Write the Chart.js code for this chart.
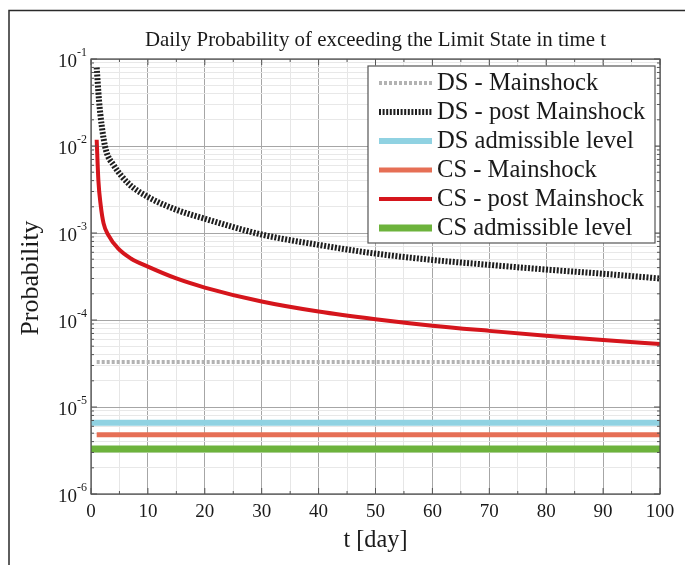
<!DOCTYPE html>
<html><head><meta charset="utf-8">
<script src="https://cdn.jsdelivr.net/npm/chart.js@4.4.0/dist/chart.umd.min.js"></script>
<style>html,body{margin:0;padding:0;background:#fff;}#wrap{position:relative;width:685px;height:565px;}</style>
</head><body><div id="wrap"><canvas id="c" width="685" height="565"></canvas></div>
<script>
// ---- text ----
const titleText = 'Daily Probability of exceeding the Limit State in time t';
const xAxisTitle = 't [day]';
const yAxisTitle = 'Probability';
const xTickValues = [0, 10, 20, 30, 40, 50, 60, 70, 80, 90, 100];
const yDecadeExponents = [-6, -5, -4, -3, -2, -1];
const seriesNames = ['DS - Mainshock', 'DS - post Mainshock', 'DS admissible level',
                     'CS - Mainshock', 'CS - post Mainshock', 'CS admissible level'];

// ---- data ----
const dsPostDays   = [1, 1.4, 1.9, 2.6, 4, 6.6, 10, 15, 20, 30, 40, 50, 60, 70, 80, 90, 100];
const dsPostValues = [0.080, 0.034, 0.0168, 0.0091, 0.0060, 0.0037, 0.0026, 0.00185, 0.00146,
                      0.00096, 0.00073, 0.00058, 0.00049, 0.00043, 0.00038, 0.00034, 0.00030];
const csPostDays   = [1, 1.3, 1.7, 2.2, 3, 4.8, 7, 10, 15, 20, 30, 40, 50, 60, 70, 80, 90, 100];
const csPostValues = [0.0118, 0.0040, 0.0021, 0.0013, 0.00096, 0.00066, 0.00051, 0.00041, 0.00030,
                      0.000236, 0.000163, 0.000125, 0.000102, 0.000086, 0.000075, 0.0000660, 0.0000590, 0.0000530];
const mainshockDays  = [1, 100];
const admissibleDays = [0, 100];
const dsMainshockLevel  = 3.3e-5;
const dsAdmissibleLevel = 6.6e-6;
const csMainshockLevel  = 4.8e-6;
const csAdmissibleLevel = 3.3e-6;

// ---- build ----
const pts = (xs, ys) => xs.map((x, i) => ({x: x, y: Array.isArray(ys) ? ys[i] : ys}));
const styles = [
  {color: '#b3b3b3', width: 4, dash: [3, 2]},
  {color: '#1e1e1e', width: 6, dash: [2, 1.6]},
  {color: '#90d2e2', width: 6, dash: []},
  {color: '#e66f55', width: 5, dash: []},
  {color: '#d5151c', width: 4, dash: []},
  {color: '#6db33c', width: 7, dash: []}
];
const seriesData = [
  pts(mainshockDays, dsMainshockLevel),
  pts(dsPostDays, dsPostValues),
  pts(admissibleDays, dsAdmissibleLevel),
  pts(mainshockDays, csMainshockLevel),
  pts(csPostDays, csPostValues),
  pts(admissibleDays, csAdmissibleLevel)
];
const datasets = seriesNames.map((n, i) => ({
  label: n, data: seriesData[i], borderColor: styles[i].color, borderWidth: styles[i].width,
  borderDash: styles[i].dash, borderCapStyle: 'butt', pointRadius: 0, tension: 0.35,
  cubicInterpolationMode: 'monotone', fill: false
}));

const SERIF = '"Liberation Serif", "Times New Roman", serif';
function fitFont(ctx, text, target) { ctx.font = '20px ' + SERIF; return 20 * target / ctx.measureText(text).width; }

const decor = {
  id: 'decor',
  afterDraw(chart) {
    const ctx = chart.ctx, ca = chart.chartArea, xs = chart.scales.x, ys = chart.scales.y;
    ctx.save();
    // outer frame
    ctx.strokeStyle = '#2a2a2a'; ctx.lineWidth = 1.5;
    ctx.beginPath(); ctx.moveTo(9, 565); ctx.lineTo(9, 10.5); ctx.lineTo(685, 10.5); ctx.stroke();
    // plot box
    ctx.strokeStyle = '#4a4a4a'; ctx.lineWidth = 1.2;
    ctx.strokeRect(ca.left, ca.top, ca.right - ca.left, ca.bottom - ca.top);
    // inward ticks
    ctx.lineWidth = 1; ctx.strokeStyle = '#555';
    for (let v = 0; v <= 100; v += 5) {
      const x = xs.getPixelForValue(v), L = v % 10 === 0 ? 6 : 3;
      ctx.beginPath(); ctx.moveTo(x, ca.bottom); ctx.lineTo(x, ca.bottom - L);
      ctx.moveTo(x, ca.top); ctx.lineTo(x, ca.top + L); ctx.stroke();
    }
    for (let e = -6; e <= -1; e++) for (let m = 1; m <= 9; m++) {
      const v = m * Math.pow(10, e); if (v > 0.1 + 1e-12) continue;
      const y = ys.getPixelForValue(v), L = m === 1 ? 6 : 3;
      ctx.beginPath(); ctx.moveTo(ca.left, y); ctx.lineTo(ca.left + L, y);
      ctx.moveTo(ca.right, y); ctx.lineTo(ca.right - L, y); ctx.stroke();
    }
    // tick labels
    ctx.fillStyle = '#1a1a1a';
    ctx.font = '19px ' + SERIF; ctx.textAlign = 'center'; ctx.textBaseline = 'middle';
    xTickValues.forEach(v => ctx.fillText(String(v), xs.getPixelForValue(v), ca.bottom + 18));
    yDecadeExponents.forEach(e => {
      const y = ys.getPixelForValue(Math.pow(10, e));
      ctx.font = '19px ' + SERIF; ctx.textAlign = 'right'; ctx.textBaseline = 'middle';
      ctx.fillText('10', ca.left - 14, y + 3);
      ctx.font = '12px ' + SERIF; ctx.textAlign = 'left';
      ctx.fillText('-' + Math.abs(e), ca.left - 14, y - 6);
    });
    // title
    let fs = fitFont(ctx, titleText, 461);
    ctx.font = fs.toFixed(1) + 'px ' + SERIF; ctx.textAlign = 'center'; ctx.textBaseline = 'middle';
    ctx.fillText(titleText, (ca.left + ca.right) / 2, 41);
    // axis titles
    fs = fitFont(ctx, xAxisTitle, 64);
    ctx.font = fs.toFixed(1) + 'px ' + SERIF;
    ctx.fillText(xAxisTitle, (ca.left + ca.right) / 2, 541);
    fs = fitFont(ctx, yAxisTitle, 115);
    ctx.save(); ctx.translate(31, 278); ctx.rotate(-Math.PI / 2);
    ctx.font = fs.toFixed(1) + 'px ' + SERIF; ctx.fillText(yAxisTitle, 0, 0); ctx.restore();
    // legend
    const lx = 368, ly = 66, lw = 287, lh = 177;
    ctx.fillStyle = '#fff'; ctx.fillRect(lx, ly, lw, lh);
    ctx.strokeStyle = '#555'; ctx.lineWidth = 1.2; ctx.strokeRect(lx, ly, lw, lh);
    fs = fitFont(ctx, seriesNames[1], 208);
    seriesNames.forEach((n, i) => {
      const y = 83 + i * 29;
      ctx.save(); ctx.strokeStyle = styles[i].color; ctx.lineWidth = styles[i].width;
      ctx.setLineDash(styles[i].dash); ctx.lineCap = 'butt';
      ctx.beginPath(); ctx.moveTo(379, y); ctx.lineTo(432, y); ctx.stroke(); ctx.restore();
      ctx.fillStyle = '#1a1a1a'; ctx.font = fs.toFixed(1) + 'px ' + SERIF;
      ctx.textAlign = 'left'; ctx.textBaseline = 'middle';
      ctx.fillText(n, 437, y + 1);
    });
    ctx.restore();
  }
};

new Chart(document.getElementById('c'), {
  type: 'line',
  data: {datasets: datasets},
  options: {
    responsive: false, animation: false, devicePixelRatio: 1,
    layout: {padding: {left: 91, top: 59, right: 25, bottom: 71}},
    plugins: {legend: {display: false}, title: {display: false}, tooltip: {enabled: false}},
    scales: {
      x: {type: 'linear', min: 0, max: 100,
          ticks: {display: false, stepSize: 5},
          grid: {drawTicks: false, lineWidth: 1,
                 color: c => (c.tick && c.tick.value % 10 === 0) ? '#a6a6a6' : '#e6e6e6'},
          border: {display: false}},
      y: {type: 'logarithmic', min: 1e-6, max: 1e-1,
          afterBuildTicks: s => {
            const t = [];
            for (let e = -6; e <= -1; e++) for (let m = 1; m <= 9; m++) {
              const v = m * Math.pow(10, e); if (v <= 0.1 + 1e-12) t.push({value: v, major: m === 1});
            }
            s.ticks = t;
          },
          ticks: {display: false},
          grid: {drawTicks: false, lineWidth: 1,
                 color: c => (c.tick && c.tick.major) ? '#a6a6a6' : '#e8e8e8'},
          border: {display: false}}
    }
  },
  plugins: [decor]
});
</script></body></html>
